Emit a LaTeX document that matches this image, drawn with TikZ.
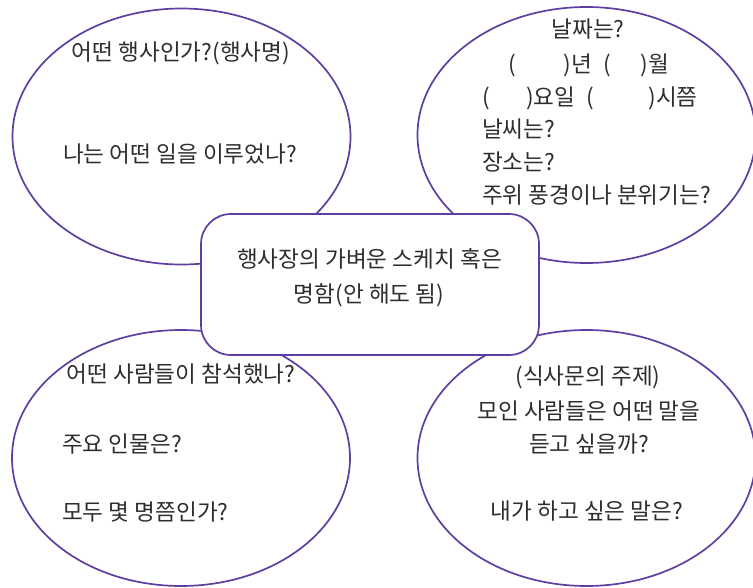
\documentclass[tikz,border=0pt]{standalone}
\usepackage{fontspec}
\setmainfont{Noto Sans CJK KR}
\usetikzlibrary{shapes.geometric}
\definecolor{bubble}{HTML}{5E3EA0}
\definecolor{ink}{HTML}{2E2E2E}
\tikzset{
  bubble/.style={draw=bubble, line width=1.7pt, ellipse, minimum width=338pt, minimum height=256pt, inner sep=0pt},
  centerbox/.style={draw=bubble, line width=1.7pt, fill=white, rounded corners=30pt, minimum width=338pt, minimum height=141pt, inner sep=0pt},
  txt/.style={text=ink, font=\fontsize{22.6}{26}\selectfont, inner sep=0pt, text height=16pt, text depth=1pt},
}
\begin{document}
\begin{tikzpicture}[x=1pt, y=-1pt]
\useasboundingbox (0,0) rectangle (753,587);
\node[bubble] (tl) at (181.5,136.5) {};
\node[bubble] (tr) at (586.5,135) {};
\node[bubble] (bl) at (181,458) {};
\node[bubble] (br) at (586.5,458) {};
\node[centerbox] (c) at (370,284.5) {};

% top-left
\node[txt] (tl1) at (181,53) {어떤 행사인가?(행사명)};
\node[txt] (tl2) at (180,155) {나는 어떤 일을 이루었나?};

% top-right
\node[txt] (tr1) at (588,30) {날짜는?};
\node[txt] (tr2) at (589,65) {(\hspace{2.1em})년\hspace{0.5em}(\hspace{1.3em})월};
\node[txt, anchor=west] (tr3) at (482,98) {(\hspace{1.6em})요일\hspace{0.5em}(\hspace{2.4em})시쯤};
\node[txt, anchor=west] (tr4) at (482,130) {날씨는?};
\node[txt, anchor=west] (tr5) at (482,163) {장소는?};
\node[txt, anchor=west] (tr6) at (482,196) {주위 풍경이나 분위기는?};

% center
\node[txt] (c1) at (369.5,260) {행사장의 가벼운 스케치 혹은};
\node[txt] (c2) at (369,295) {명함(안 해도 됨)};

% bottom-left
\node[txt] (bl1) at (181,375) {어떤 사람들이 참석했나?};
\node[txt, anchor=west] (bl2) at (62,445) {주요 인물은?};
\node[txt, anchor=west] (bl3) at (62,513) {모두 몇 명쯤인가?};

% bottom-right
\node[txt] (br1) at (588,377) {(식사문의 주제)};
\node[txt] (br2) at (589,412) {모인 사람들은 어떤 말을};
\node[txt] (br3) at (589,445) {듣고 싶을까?};
\node[txt] (br4) at (587,512) {내가 하고 싶은 말은?};
\end{tikzpicture}
\end{document}
